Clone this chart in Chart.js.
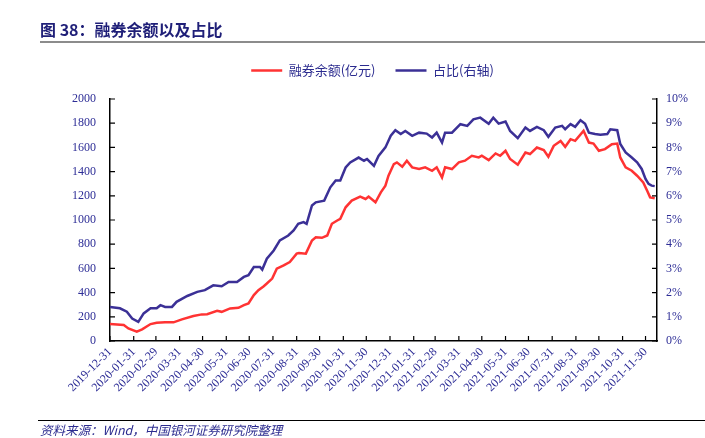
<!DOCTYPE html>
<html><head><meta charset="utf-8">
<script src="https://cdn.jsdelivr.net/npm/chart.js@4/dist/chart.umd.min.js"></script>
<style>
html,body{margin:0;padding:0;background:#fff;}
#wrap{position:relative;width:705px;height:438px;overflow:hidden;background:#fff;}
#title{position:absolute;left:40px;top:18px;font:bold 16px "Noto Sans CJK SC";color:#1f1f78;white-space:nowrap;line-height:22px;}
#tline{position:absolute;left:40px;top:41px;width:665px;height:2px;background:#8c8c8c;}
#fline{position:absolute;left:38px;top:420px;width:667px;height:1px;background:#000;}
#foot{position:absolute;left:40px;top:421px;font:italic 12.5px "Noto Sans CJK SC";color:#2b2b8f;white-space:nowrap;line-height:18px;}
canvas{position:absolute;left:0;top:0;}
</style></head>
<body><div id="wrap">
<canvas id="c" width="705" height="438"></canvas>
<div id="title">图 38：融券余额以及占比</div>
<div id="tline"></div>
<div id="fline"></div>
<div id="foot">资料来源：Wind，中国银河证券研究院整理</div>
</div>
<script>
const tickLabels = ['2019-12-31','2020-01-31','2020-02-29','2020-03-31','2020-04-30','2020-05-31','2020-06-30','2020-07-31','2020-08-31','2020-09-30','2020-10-31','2020-11-30','2020-12-31','2021-01-31','2021-02-28','2021-03-31','2021-04-30','2021-05-31','2021-06-30','2021-07-31','2021-08-31','2021-09-30','2021-10-31','2021-11-30'];
const axisEnd = '2021-12-15';

const redName = '融券余额(亿元)';
const redDates = ['2019-12-31','2020-01-18','2020-01-24','2020-02-04','2020-02-11','2020-02-22','2020-03-01','2020-03-12','2020-03-23','2020-04-03','2020-04-18','2020-04-29','2020-05-06','2020-05-19','2020-05-25','2020-06-05','2020-06-16','2020-06-23','2020-06-29','2020-07-06','2020-07-12','2020-07-19','2020-07-23','2020-07-30','2020-08-05','2020-08-14','2020-08-22','2020-08-31','2020-09-03','2020-09-12','2020-09-20','2020-09-25','2020-10-03','2020-10-10','2020-10-16','2020-10-23','2020-10-27','2020-11-03','2020-11-11','2020-11-22','2020-11-29','2020-12-03','2020-12-12','2020-12-19','2020-12-25','2020-12-29','2021-01-05','2021-01-09','2021-01-16','2021-01-22','2021-01-29','2021-02-07','2021-02-15','2021-02-24','2021-03-02','2021-03-09','2021-03-13','2021-03-22','2021-03-31','2021-04-08','2021-04-17','2021-04-26','2021-04-30','2021-05-09','2021-05-18','2021-05-24','2021-05-31','2021-06-06','2021-06-16','2021-06-26','2021-07-02','2021-07-11','2021-07-20','2021-07-26','2021-08-02','2021-08-11','2021-08-17','2021-08-24','2021-08-30','2021-09-10','2021-09-17','2021-09-23','2021-09-30','2021-10-08','2021-10-17','2021-10-24','2021-10-28','2021-11-04','2021-11-12','2021-11-19','2021-11-27','2021-12-02','2021-12-06','2021-12-12'];
const redValues = [140,132,104,77,96,140,151,154,154,179,206,220,222,249,241,269,274,296,310,379,420,453,475,516,598,625,653,722,727,722,831,858,853,872,969,996,1010,1105,1160,1193,1174,1193,1146,1229,1284,1366,1462,1476,1440,1490,1435,1421,1435,1407,1435,1352,1435,1421,1476,1490,1531,1517,1531,1495,1550,1531,1572,1504,1457,1558,1545,1599,1578,1523,1613,1654,1605,1668,1654,1737,1640,1632,1572,1586,1627,1632,1517,1435,1407,1366,1311,1243,1187,1180];

const blueName = '占比(右轴)';
const blueDates = ['2019-12-31','2020-01-13','2020-01-22','2020-01-29','2020-02-06','2020-02-13','2020-02-22','2020-03-01','2020-03-06','2020-03-12','2020-03-21','2020-03-27','2020-04-10','2020-04-23','2020-05-03','2020-05-14','2020-05-25','2020-06-03','2020-06-14','2020-06-23','2020-06-29','2020-07-06','2020-07-14','2020-07-17','2020-07-23','2020-08-01','2020-08-09','2020-08-20','2020-08-27','2020-09-02','2020-09-09','2020-09-13','2020-09-20','2020-09-25','2020-10-06','2020-10-14','2020-10-21','2020-10-27','2020-11-03','2020-11-09','2020-11-20','2020-11-27','2020-12-01','2020-12-10','2020-12-16','2020-12-25','2021-01-01','2021-01-07','2021-01-14','2021-01-20','2021-01-29','2021-02-07','2021-02-17','2021-02-24','2021-03-02','2021-03-09','2021-03-13','2021-03-22','2021-04-02','2021-04-11','2021-04-19','2021-04-28','2021-05-09','2021-05-15','2021-05-22','2021-05-31','2021-06-06','2021-06-16','2021-06-26','2021-07-02','2021-07-11','2021-07-20','2021-07-26','2021-08-04','2021-08-13','2021-08-17','2021-08-24','2021-08-30','2021-09-06','2021-09-12','2021-09-17','2021-09-25','2021-10-02','2021-10-11','2021-10-15','2021-10-24','2021-10-28','2021-11-04','2021-11-12','2021-11-19','2021-11-25','2021-11-30','2021-12-04','2021-12-08','2021-12-12'];
const blueValues = [1.41,1.35,1.21,0.93,0.79,1.14,1.35,1.35,1.48,1.41,1.41,1.62,1.86,2.03,2.10,2.30,2.26,2.44,2.44,2.65,2.72,3.06,3.06,2.95,3.40,3.74,4.16,4.36,4.57,4.84,4.91,4.84,5.60,5.73,5.80,6.35,6.63,6.63,7.17,7.38,7.58,7.45,7.52,7.24,7.65,8.00,8.48,8.71,8.55,8.68,8.48,8.61,8.57,8.41,8.61,8.20,8.61,8.61,8.96,8.89,9.16,9.23,8.98,9.23,8.98,9.07,8.68,8.38,8.82,8.68,8.85,8.71,8.44,8.82,8.89,8.75,8.96,8.85,9.12,8.98,8.61,8.55,8.52,8.55,8.75,8.71,8.14,7.79,7.58,7.38,7.11,6.70,6.49,6.42,6.40];

const leftTicks = [0,200,400,600,800,1000,1200,1400,1600,1800,2000];
const rightTicks = [0,1,2,3,4,5,6,7,8,9,10];

const base = Date.UTC(2019,11,31);
const dayOf = s => Math.round((Date.UTC(+s.slice(0,4), +s.slice(5,7)-1, +s.slice(8,10)) - base)/864e5);
const tickDays = tickLabels.map(dayOf);

const axisColor = '#000';
const labelColor = '#2d2d96';
const tickFont = {family:'"Liberation Serif", "Times New Roman", serif', size:12};

const innerTicks = {
  id:'innerTicks',
  afterDraw(chart){
    const {ctx, chartArea:a, scales} = chart;
    ctx.save(); ctx.strokeStyle = axisColor; ctx.lineWidth = 1.2;
    ctx.beginPath();
    scales.y.ticks.forEach(t=>{const y=scales.y.getPixelForValue(t.value); ctx.moveTo(a.left,y); ctx.lineTo(a.left+5,y);});
    scales.y1.ticks.forEach(t=>{const y=scales.y1.getPixelForValue(t.value); ctx.moveTo(a.right,y); ctx.lineTo(a.right-5,y);});
    scales.x.ticks.forEach(t=>{const x=scales.x.getPixelForValue(t.value); ctx.moveTo(x,a.bottom); ctx.lineTo(x,a.bottom-5);});
    ctx.stroke(); ctx.restore();
  }
};
const legendGap = {
  id:'legendGap',
  afterInit(chart){
    const lg = chart.legend;
    if (!lg) return;
    const f = lg.fit;
    lg.fit = function(){ f.call(this); this.height += 12; };
  }
};

new Chart(document.getElementById('c'), {
  type:'line',
  data:{
    datasets:[
      {label:redName, data:redDates.map((d,i)=>({x:dayOf(d), y:redValues[i]})), borderColor:'#ff3333', backgroundColor:'#ff3333', borderWidth:2.5, pointRadius:0, tension:0, yAxisID:'y'},
      {label:blueName, data:blueDates.map((d,i)=>({x:dayOf(d), y:blueValues[i]})), borderColor:'#3b3096', backgroundColor:'#3b3096', borderWidth:2.5, pointRadius:0, tension:0, yAxisID:'y1'}
    ]
  },
  options:{
    responsive:false, animation:false, devicePixelRatio:1,
    layout:{padding:{top:44,left:40,right:0,bottom:0}},
    plugins:{
      legend:{display:true, position:'top', labels:{usePointStyle:true, pointStyle:'line', pointStyleWidth:31, padding:20, color:'#2b2b8f', font:{family:'"Noto Sans CJK SC"', size:13}}},
      tooltip:{enabled:false}
    },
    scales:{
      x:{type:'linear', min:0, max:dayOf(axisEnd),
        afterBuildTicks:s=>{s.ticks = tickDays.map(v=>({value:v}));},
        afterFit:s=>{s.height = 97;},
        ticks:{autoSkip:false, minRotation:45, maxRotation:45, padding:4, color:labelColor, font:tickFont,
          callback:v=>{const i=tickDays.indexOf(v); return i>=0?tickLabels[i]:'';}},
        grid:{drawOnChartArea:false, drawTicks:false},
        border:{color:axisColor, width:1.5}
      },
      y:{position:'left', min:0, max:2000,
        afterBuildTicks:s=>{s.ticks = leftTicks.map(v=>({value:v}));},
        afterFit:s=>{s.width = 70;},
        ticks:{padding:14, color:labelColor, font:tickFont, callback:v=>String(v)},
        grid:{drawOnChartArea:false, drawTicks:false},
        border:{color:axisColor, width:1.5}
      },
      y1:{position:'right', min:0, max:10,
        afterBuildTicks:s=>{s.ticks = rightTicks.map(v=>({value:v}));},
        afterFit:s=>{s.width = 48;},
        ticks:{padding:9, color:labelColor, font:tickFont, callback:v=>v+'%'},
        grid:{drawOnChartArea:false, drawTicks:false},
        border:{color:axisColor, width:1.5}
      }
    }
  },
  plugins:[innerTicks, legendGap]
});
</script>
</body></html>
